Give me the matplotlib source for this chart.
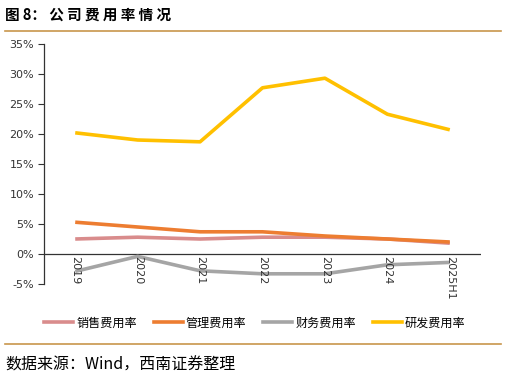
import matplotlib
matplotlib.use("Agg")
import matplotlib.pyplot as plt
from matplotlib.lines import Line2D

plt.rcParams['font.family'] = ['Noto Sans CJK SC', 'DejaVu Sans']

categories = ["2019", "2020", "2021", "2022", "2023", "2024", "2025H1"]
sales = [2.5, 2.8, 2.5, 2.8, 2.8, 2.5, 1.8]
admin = [5.3, 4.5, 3.7, 3.7, 3.0, 2.5, 2.0]
finance = [-2.9, -0.4, -2.8, -3.3, -3.3, -1.8, -1.4]
rnd = [20.2, 19.0, 18.7, 27.7, 29.3, 23.3, 20.7]
series_names = ["销售费用率", "管理费用率", "财务费用率", "研发费用率"]
colors = ["#D98C8C", "#ED7D31", "#A5A5A5", "#FFC000"]
yticks = [-5, 0, 5, 10, 15, 20, 25, 30, 35]

W, H = 506, 378
fig = plt.figure(figsize=(W / 100, H / 100), dpi=100)
ax = fig.add_axes([44 / W, 1 - 284 / H, (481 - 44) / W, (284 - 44) / H])

x = list(range(len(categories)))
for vals, c, n in zip([sales, admin, finance, rnd], colors, series_names):
    ax.plot(x, vals, color=c, lw=2.6, label=n, solid_capstyle='butt')

ax.set_xlim(-0.5, len(categories) - 0.5)
ax.set_ylim(-5, 35)
ax.set_yticks(yticks)
ax.set_yticklabels([f"{v}%" for v in yticks], fontsize=8, color="#333333", family=['DejaVu Sans'])
ax.axhline(0, color="#333333", lw=0.9, zorder=1)
for s in ["top", "right", "bottom"]:
    ax.spines[s].set_visible(False)
ax.spines["left"].set_color("#333333")
ax.spines["left"].set_linewidth(0.9)
ax.tick_params(axis='y', length=4, width=0.8, color="#333333", pad=3)
ax.set_xticks([])
for xi, lab in zip(x, categories):
    ax.text(xi, -0.4, lab, rotation=270, ha='center', va='top', fontsize=8, color="#333333", family=['DejaVu Sans'])

handles = [Line2D([], [], color=c, lw=2.6) for c in colors]
fig.legend(handles, series_names, loc='center', bbox_to_anchor=(255 / W, 1 - 323 / H), ncol=4,
           frameon=False, fontsize=8.7, handlelength=2.4, handletextpad=0.25, columnspacing=1.4)

fig.text(5 / W, 1 - 15 / H, "图 8： 公 司 费 用 率 情 况", fontsize=10.5, fontweight='bold', va='center', ha='left')
fig.add_artist(Line2D([5 / W, 501 / W], [1 - 31 / H, 1 - 31 / H], color="#C8964C", lw=1.2))
fig.add_artist(Line2D([5 / W, 501 / W], [1 - 344 / H, 1 - 344 / H], color="#C8964C", lw=1.2))
fig.text(5 / W, 1 - 365 / H, "数据来源：Wind，西南证券整理", fontsize=11.5, style='italic', va='center', ha='left')

fig.savefig("out.png", dpi=100)
